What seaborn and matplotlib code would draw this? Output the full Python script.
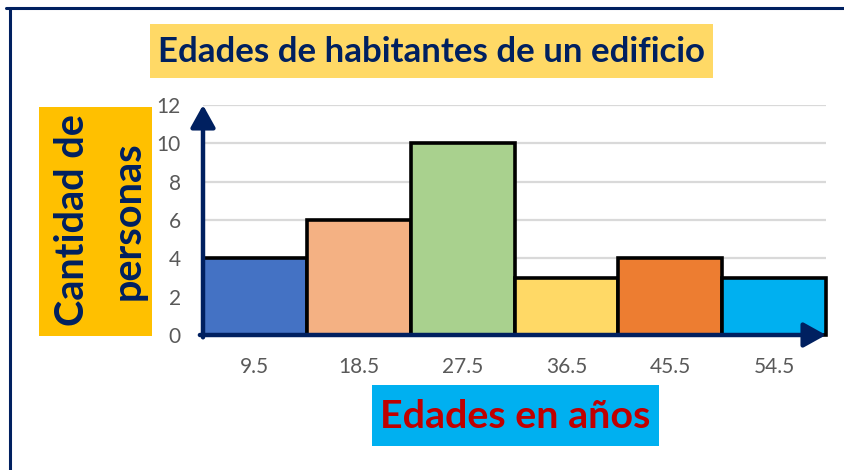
import matplotlib
matplotlib.use("Agg")
import matplotlib.pyplot as plt
import seaborn as sns
import pandas as pd
from matplotlib.patches import Rectangle
from matplotlib.lines import Line2D
from matplotlib import font_manager as fm

# ---- data ----
edades = ["9.5", "18.5", "27.5", "36.5", "45.5", "54.5"]
personas = [4, 6, 10, 3, 4, 3]
colores = ["#4472C4", "#F4B183", "#A9D18E", "#FFD966", "#ED7D31", "#00B0F0"]
yticks = [0, 2, 4, 6, 8, 10, 12]
titulo = "Edades de habitantes de un edificio"
ylabel_lines = ["Cantidad de", "personas"]
xlabel = "Edades en años"

sns.set_theme(style="white")


def has_font(name):
    try:
        fm.findfont(fm.FontProperties(family=name), fallback_to_default=False)
        return True
    except Exception:
        return False


FONT = "Lato" if has_font("Lato") else "DejaVu Sans"
plt.rcParams["font.family"] = [FONT, "DejaVu Sans"]

W, H = 844, 470
fig = plt.figure(figsize=(W / 100, H / 100), dpi=100)
fig.patch.set_facecolor("white")


def fx(px):
    return px / W


def fy(py):
    return 1 - py / H


NAVY = "#002060"

# frame lines
fig.add_artist(Line2D([fx(6), 1], [fy(7.5), fy(7.5)], color=NAVY, lw=2.2))
fig.add_artist(Line2D([fx(10), fx(10)], [fy(7.5), 0], color=NAVY, lw=2.2))

# axes
ax = fig.add_axes([fx(203), fy(335), fx(826) - fx(203), fy(105) - fy(335)])
df = pd.DataFrame({"edad": edades, "n": personas})
sns.barplot(data=df, x="edad", y="n", hue="edad", order=edades, hue_order=edades,
            palette=colores, width=1, saturation=1, edgecolor="black",
            linewidth=2.6, legend=False, ax=ax, zorder=2)
for p in ax.patches:
    p.set_clip_on(False)
ax.set_xlim(-0.5, 5.5)
ax.set_ylim(0, 12)
ax.set_yticks(yticks)
ax.set_xlabel("")
ax.set_ylabel("")
for s in ax.spines.values():
    s.set_visible(False)
ax.yaxis.grid(True, color="#D9D9D9", lw=1.6)
ax.xaxis.grid(False)
ax.set_axisbelow(True)
ax.set_facecolor("white")
ax.tick_params(axis="both", length=0, labelsize=15, labelcolor="#595959")
ax.tick_params(axis="y", pad=16)
ax.tick_params(axis="x", pad=16)

arrow_style = "-|>,head_length=0.9,head_width=0.5"
ax.annotate("", xy=(0, 1.0), xytext=(0, -0.01), xycoords="axes fraction",
            arrowprops=dict(arrowstyle=arrow_style, color=NAVY, lw=3.2,
                            shrinkA=0, shrinkB=0, mutation_scale=15),
            annotation_clip=False, zorder=5)
ax.annotate("", xy=(1.0, 0), xytext=(-0.005, 0), xycoords="axes fraction",
            arrowprops=dict(arrowstyle=arrow_style, color=NAVY, lw=3.2,
                            shrinkA=0, shrinkB=0, mutation_scale=15),
            annotation_clip=False, zorder=5)

# boxes
def box(x0, y0, x1, y1, color):
    fig.add_artist(Rectangle((fx(x0), fy(y1)), fx(x1) - fx(x0), (y1 - y0) / H,
                             transform=fig.transFigure, facecolor=color,
                             edgecolor="none", zorder=0))


box(150, 24, 713, 78, "#FFD966")
box(39, 107, 152, 336, "#FFC000")
box(372, 385, 659, 446, "#00B0F0")

renderer = fig.canvas.get_renderer()


def fit(t, target, vertical=False):
    bb = t.get_window_extent(renderer)
    cur = bb.height if vertical else bb.width
    t.set_fontsize(t.get_fontsize() * target / cur)


t_title = fig.text(fx(431), fy(52), titulo, ha="center", va="center",
                   fontweight="bold", color=NAVY, fontsize=20)
fit(t_title, 548)

t_y1 = fig.text(fx(72), fy(220), ylabel_lines[0], ha="center", va="center",
                rotation=90, fontweight="bold", color=NAVY, fontsize=24)
fit(t_y1, 212, vertical=True)
t_y2 = fig.text(fx(128), fy(221), ylabel_lines[1], ha="center", va="center",
                rotation=90, fontweight="bold", color=NAVY,
                fontsize=t_y1.get_fontsize())

t_x = fig.text(fx(515), fy(416), xlabel, ha="center", va="center",
               fontweight="bold", color="#C00000", fontsize=22)
fit(t_x, 270)

fig.savefig("out.png", dpi=100, facecolor="white")
